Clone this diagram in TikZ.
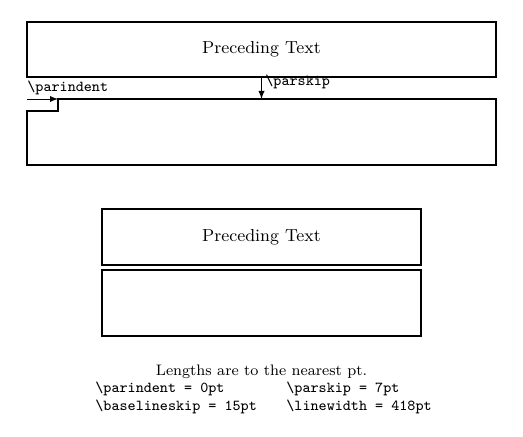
\documentclass[tikz,border=0pt]{standalone}
\usepackage{amsmath}
\usetikzlibrary{positioning}

\begin{document}
\begin{tikzpicture}[x=0.5pt, y=-0.5pt,
    textbox/.style={rectangle, draw=black, line width=0.6pt, inner sep=0pt,
                    font=\fontsize{8.7}{10}\selectfont},
    lenlabel/.style={inner sep=0pt, font=\fontsize{7.6}{9}\selectfont\ttfamily},
    notelabel/.style={inner sep=0pt, font=\fontsize{7.6}{9}\selectfont},
  ]
  \useasboundingbox (0,0) rectangle (523,437);

  % upper picture
  \node[textbox, minimum width=234.5pt, minimum height=27.5pt] (prec) at (261.5,49.5) {Preceding Text};
  \coordinate (parstart) at (27,99);
  \coordinate (indent)   at (58,99);
  \coordinate (skipbot)  at (prec.south |- parstart);
  \draw[line width=0.6pt] (27,111) -| (indent) -- (496,99) |- (27,165) -- cycle;
  \draw[-latex, line width=0.4pt] (parstart) -- (indent);
  \draw[-latex, line width=0.4pt] (prec.south) -- (skipbot);
  \node[lenlabel, anchor=base west] (parindentlbl) at (27,92) {\textbackslash parindent};
  \node[lenlabel, anchor=base west] (parskiplbl)   at (265,86) {\textbackslash parskip};

  % lower picture
  \node[textbox, minimum width=159.5pt, minimum height=28pt] (prec2) at (261.5,237) {Preceding Text};
  \node[textbox, minimum width=159.5pt, minimum height=33pt] (para2) at (261.5,303) {};

  % lengths
  \node[notelabel, anchor=base] (note) at (261.5,375) {Lengths are to the nearest pt.};
  \node[lenlabel, anchor=base west] (parindentval) at (95,392)  {\textbackslash parindent = 0pt};
  \node[lenlabel, anchor=base west] (parskipval)   at (286,392) {\textbackslash parskip = 7pt};
  \node[lenlabel, anchor=base west] (baselineval)  at (95,410)  {\textbackslash baselineskip = 15pt};
  \node[lenlabel, anchor=base west] (linewidthval) at (286,410) {\textbackslash linewidth = 418pt};
\end{tikzpicture}
\end{document}
